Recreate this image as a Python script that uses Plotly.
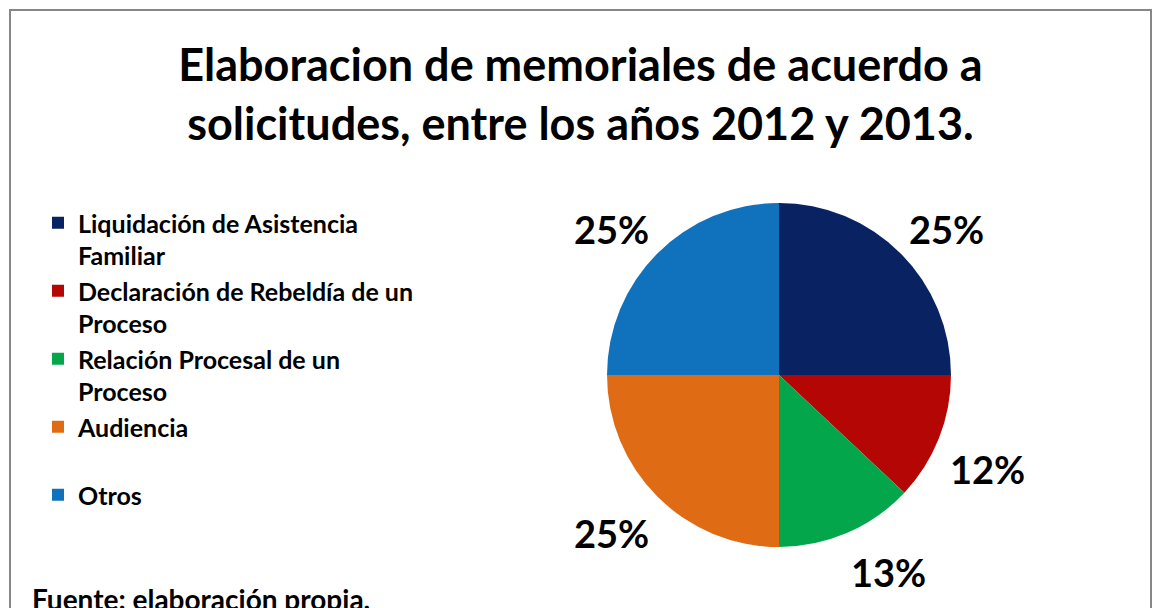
import math
import plotly.graph_objects as go

title_text = "Elaboracion de memoriales de acuerdo a<br>solicitudes, entre los años 2012 y 2013."
categories = [
    "Liquidación de Asistencia<br>Familiar",
    "Declaración de Rebeldía de un<br>Proceso",
    "Relación Procesal de un<br>Proceso",
    "Audiencia<br>\u00a0",
    "Otros",
]
values = [0.25, 0.12, 0.13, 0.25, 0.25]
colors = ["#082262", "#b50606", "#04a64b", "#df6c15", "#1072bd"]
source_text = "Fuente: elaboración propia."

W, H = 1154, 608
FONT = "Lato"

# pie geometry (pixels)
CX, CY, R = 779, 375, 172
GAP = 14          # distance of label box from pie edge
HALF_W, HALF_H = 36, 20   # approximate half size of a label box
DROP = 6

fig = go.Figure(
    go.Pie(
        labels=categories,
        values=values,
        sort=False,
        direction="clockwise",
        rotation=0,
        marker=dict(colors=colors, line=dict(width=0)),
        textinfo="none",
        domain=dict(x=[(CX - R) / W, (CX + R) / W], y=[1 - (CY + R) / H, 1 - (CY - R) / H]),
        hoverinfo="label+percent",
    )
)

# percentage labels placed outside the pie next to the mid-angle of each slice
annotations = []
total = sum(values)
cum = 0.0
for v in values:
    mid = (cum + v / 2) / total * 2 * math.pi
    cum += v
    s, c = math.sin(mid), math.cos(mid)
    ex = CX + (R + GAP) * s
    ey = CY - (R + GAP) * c
    px = ex + (HALF_W if s > 0 else -HALF_W)
    py = ey + (-HALF_H if c > 0 else HALF_H) + DROP
    annotations.append(
        dict(
            text=f"{round(v / total * 100)}%",
            x=px / W,
            y=1 - py / H,
            xref="paper",
            yref="paper",
            xanchor="center",
            yanchor="middle",
            showarrow=False,
            font=dict(family=FONT, size=38, color="#000000", weight="bold"),
        )
    )

annotations.append(
    dict(
        text=source_text,
        x=30 / W,
        xref="paper",
        xanchor="left",
        y=1 - 580 / H,
        yref="paper",
        yanchor="top",
        showarrow=False,
        font=dict(family=FONT, size=28, color="#000000", weight="bold"),
    )
)

fig.update_layout(
    width=W,
    height=H,
    margin=dict(l=0, r=0, t=0, b=0),
    paper_bgcolor="#ffffff",
    plot_bgcolor="#ffffff",
    title=dict(
        text=title_text,
        x=0.503,
        xanchor="center",
        y=1 - 81 / H,
        yanchor="top",
        yref="container",
        font=dict(family=FONT, size=45, color="#000000", weight="bold"),
    ),
    legend=dict(
        x=38 / W,
        xanchor="left",
        y=1 - 200 / H,
        yanchor="top",
        valign="top",
        font=dict(family=FONT, size=25, color="#000000", weight="bold"),
        bgcolor="rgba(0,0,0,0)",
        traceorder="normal",
    ),
    showlegend=True,
    annotations=annotations,
    shapes=[
        dict(
            type="rect",
            xref="paper",
            yref="paper",
            x0=10 / W,
            x1=1151 / W,
            y0=-0.2,
            y1=1 - 10 / H,
            line=dict(color="#878787", width=2),
            fillcolor="rgba(0,0,0,0)",
            layer="below",
        )
    ],
)

fig.write_html(
    "out.html",
    config={"displayModeBar": False},
    post_script="document.body.style.margin='0';document.body.style.overflow='hidden';",
)
